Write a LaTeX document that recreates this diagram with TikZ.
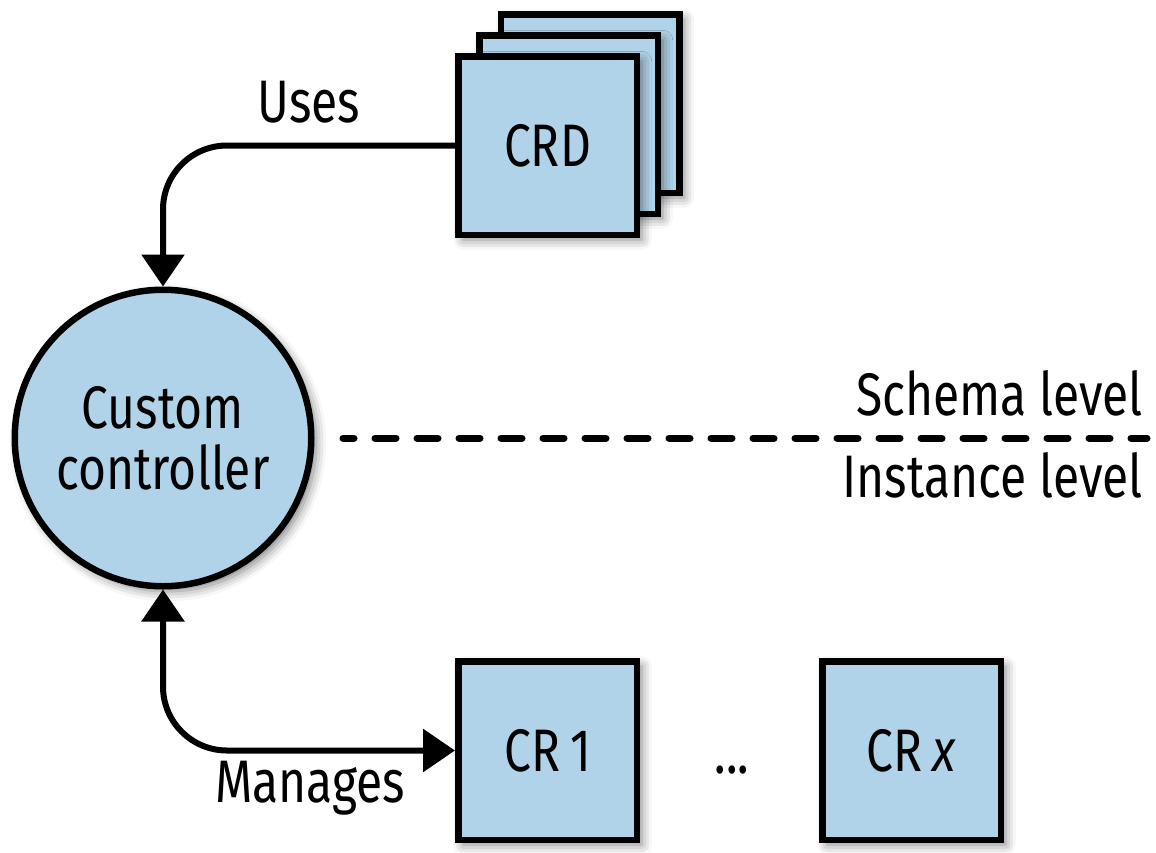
\documentclass[tikz,border=0pt]{standalone}
\usepackage{fontspec}
\setmainfont{Fira Sans}[FakeStretch=0.8]
\usetikzlibrary{arrows.meta,shadows.blur}
\definecolor{boxblue}{HTML}{B0D3EA}
\begin{document}
\begin{tikzpicture}[x=1pt,y=-1pt,
  font=\fontsize{60}{61}\selectfont,
  >={Triangle[length=32pt,width=42pt]},
  shadowed/.style={blur shadow={shadow xshift=5pt,shadow yshift=-5pt,shadow blur radius=10pt,shadow opacity=50}},
  box/.style={draw=black,line width=6.5pt,fill=boxblue,minimum size=178.5pt,inner sep=0pt,text height=41pt,text depth=0pt,shadowed},
  ctrl/.style={circle,draw=black,line width=6.5pt,fill=boxblue,minimum size=296.5pt,inner sep=0pt,align=center,shadowed},
  conn/.style={line width=6pt,rounded corners=64pt},
  lbl/.style={inner sep=0pt},
  divider/.style={line width=7pt,line cap=round,dash pattern=on 21pt off 21pt,dash phase=10pt}
]
\useasboundingbox (0,0) rectangle (1156,852);
% CRD stack
\node[box] (crdc) at (590,103.5) {};
\node[box] (crdb) at (568.5,124.5) {};
\node[box] (crd) at (547.5,145.5) {CRD};
% controller
\node[ctrl] (cc) at (163,438) {Custom\\controller};
% CRs
\node[box] (cr1) at (547.5,750.5) {CR\,1};
\node[box] (crx) at (911.5,750.5) {CR\,\textit{x}};
\node[lbl,anchor=base] (dots) at (732,773) {...};
% connectors
\draw[conn,->] (crd.west) -- (crd.west -| cc.north) -- (cc.north);
\draw[conn,<->] (cc.south) -- (cc.south |- cr1.west) -- (cr1.west);
\node[lbl,anchor=base] (uses) at (309,122) {Uses};
\node[lbl,anchor=base] (manages) at (310,802) {Manages};
% divider
\coordinate (dl) at (343,438);
\coordinate (dr) at (1147,438);
\draw[divider] (dl) -- (dr);
\node[lbl,anchor=base east] (schema) at (1143,415) {Schema level};
\node[lbl,anchor=base east] (instance) at (1143,497) {Instance level};
\end{tikzpicture}
\end{document}
